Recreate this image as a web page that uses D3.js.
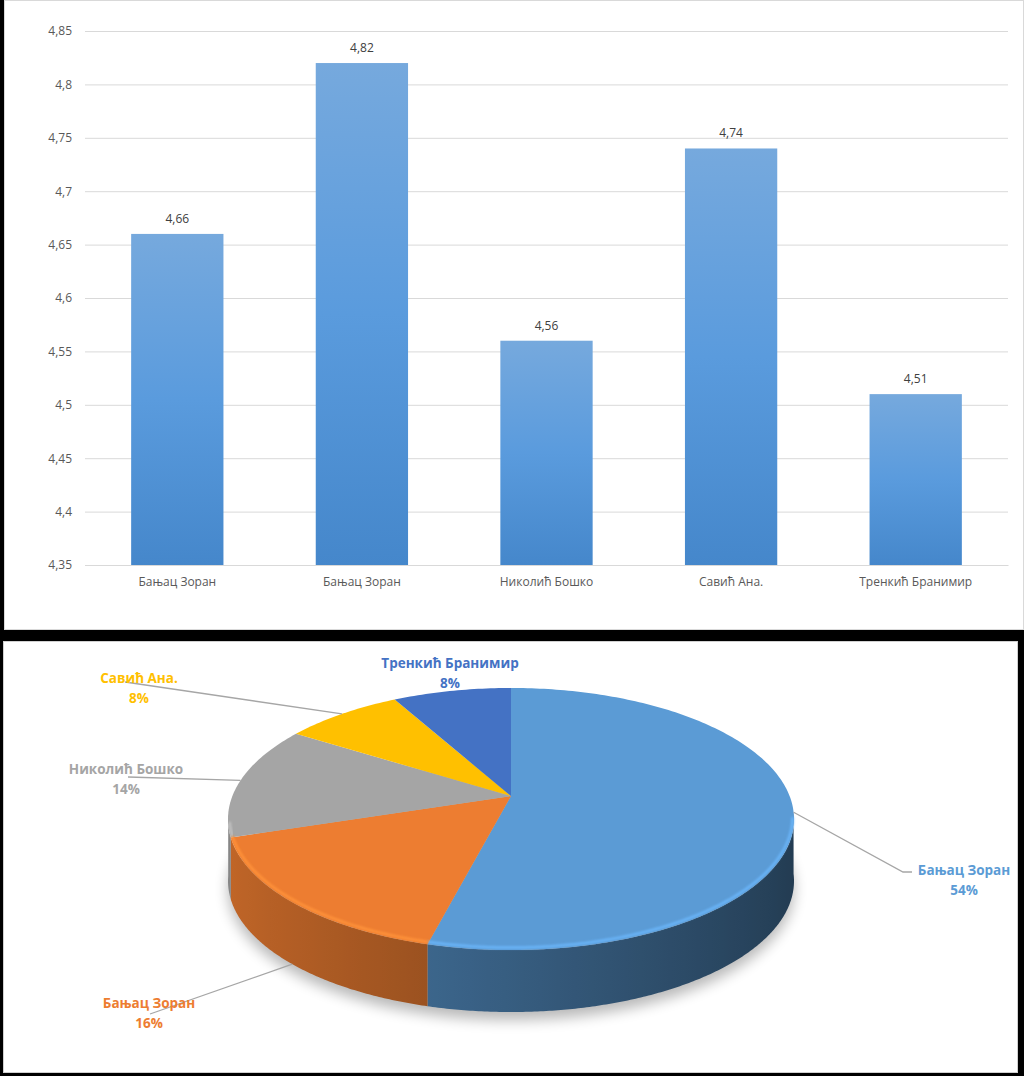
<!DOCTYPE html>
<html>
<head>
<meta charset="utf-8">
<script src="https://cdn.jsdelivr.net/npm/d3@7"></script>
<style>
  html, body { margin: 0; padding: 0; background: #000; }
  svg { display: block; }
</style>
</head>
<body>
<div id="chart"></div>
<script>
// bar chart data
const barNames = ['Бањац Зоран', 'Бањац Зоран', 'Николић Бошко', 'Савић Ана.', 'Тренкић Бранимир'];
const barValues = [4.66, 4.82, 4.56, 4.74, 4.51];
const yTicks = [4.35, 4.4, 4.45, 4.5, 4.55, 4.6, 4.65, 4.7, 4.75, 4.8, 4.85];

// pie chart data (clockwise from 12 o'clock)
const pieNames = ['Бањац Зоран', 'Бањац Зоран', 'Николић Бошко', 'Савић Ана.', 'Тренкић Бранимир'];
const pieValues = [54, 16, 14, 8, 8];
const pieColors = ['#5b9bd5', '#ed7d31', '#a5a5a5', '#ffc000', '#4472c4'];

const W = 1024, H = 1076;
const comma = v => String(+v.toFixed(2)).replace('.', ',');

const svg = d3.select('#chart').append('svg')
  .attr('width', W)
  .attr('height', H);

const defs = svg.append('defs');

// panels
svg.append('rect').attr('x', 4.5).attr('y', 0.5).attr('width', 1019).attr('height', 629)
  .attr('fill', '#fff').attr('stroke', '#d9d9d9');
svg.append('rect').attr('x', 3.5).attr('y', 641.5).attr('width', 1014).attr('height', 431)
  .attr('fill', '#fff').attr('stroke', '#d0d0d0');

/* ---------- bar chart ---------- */
const margin = {left: 85, right: 16, top: 31, bottom: 65};
const x = d3.scaleBand()
  .domain(d3.range(barNames.length))
  .range([margin.left, W - margin.right])
  .paddingInner(0.5)
  .paddingOuter(0.25);
const y = d3.scaleLinear()
  .domain([yTicks[0], yTicks[yTicks.length - 1]])
  .range([630 - margin.bottom, margin.top]);

const grad = defs.append('linearGradient')
  .attr('id', 'barGrad')
  .attr('x1', 0).attr('y1', 0).attr('x2', 0).attr('y2', 1);
grad.append('stop').attr('offset', '0%').attr('stop-color', '#76a9dd');
grad.append('stop').attr('offset', '50%').attr('stop-color', '#5a9bdd');
grad.append('stop').attr('offset', '100%').attr('stop-color', '#4587cb');

const yAxis = g => g
  .attr('transform', `translate(${margin.left},0)`)
  .call(d3.axisLeft(y).tickValues(yTicks).tickFormat(comma)
    .tickSize(-(W - margin.right - margin.left)).tickPadding(13))
  .call(g => g.select('.domain').remove())
  .call(g => g.selectAll('.tick line').attr('stroke', '#d9d9d9'))
  .call(g => g.selectAll('.tick text')
    .attr('fill', '#595959')
    .attr('font-family', 'Open Sans, sans-serif')
    .attr('font-size', 12));

svg.append('g').call(yAxis);

const xAxis = g => g
  .attr('transform', `translate(0,${y(yTicks[0])})`)
  .call(d3.axisBottom(x).tickFormat(i => barNames[i]).tickSize(0).tickPadding(12))
  .call(g => g.select('.domain').attr('stroke', '#d9d9d9'))
  .call(g => g.selectAll('.tick text')
    .attr('fill', '#595959')
    .attr('font-family', 'Open Sans, sans-serif')
    .attr('font-size', 12));

svg.selectAll('rect.bar')
  .data(barValues)
  .join('rect')
  .attr('class', 'bar')
  .attr('x', (d, i) => x(i))
  .attr('width', x.bandwidth())
  .attr('y', d => y(d))
  .attr('height', d => y(yTicks[0]) - y(d))
  .attr('fill', 'url(#barGrad)');

svg.append('g').call(xAxis);

svg.append('g')
  .attr('font-family', 'Open Sans, sans-serif')
  .attr('font-size', 12)
  .attr('fill', '#404040')
  .attr('text-anchor', 'middle')
  .selectAll('text')
  .data(barValues)
  .join('text')
  .attr('x', (d, i) => x(i) + x.bandwidth() / 2)
  .attr('y', d => y(d) - 11)
  .text(d => comma(d));

/* ---------- 3D pie ---------- */
const cx = 511, cy = 796;   // apex
const rx = 278.6, ry = 127; // projected radii
const persp = 0.1756;       // perspective strength
const depth = 62;
const deg = Math.PI / 180;

// t: angle clockwise from top (radians), r: radius 0..1
function proj(t, r, dz) {
  const u = r * Math.sin(t), v = -r * Math.cos(t);
  const k = 1 / (1 - persp * v);
  return [cx + rx * u * k, cy + ry * v * k + (dz || 0)];
}
const shade = t => 0.6 - 0.22 * Math.sin(t);
const darken = (col, f) => {
  const c = d3.rgb(col);
  return d3.rgb(c.r * f, c.g * f, c.b * f).formatHex();
};

const arcs = d3.pie().sort(null).value(d => d)(pieValues);

// soft shadow under pie
const blur = defs.append('filter').attr('id', 'shadow')
  .attr('x', '-20%').attr('y', '-20%').attr('width', '140%').attr('height', '140%');
blur.append('feGaussianBlur').attr('stdDeviation', 7);
svg.append('path')
  .attr('d', d3.line()(d3.range(0, 361, 2).map(a => proj(a * deg, 1.0, depth + 8))) + 'Z')
  .attr('fill', '#000')
  .attr('opacity', 0.28)
  .attr('filter', 'url(#shadow)');

// side wall: one path per slice, shaded with a horizontal gradient
const sideFrom = 97 * deg, sideTo = 262 * deg;
arcs.forEach((a, i) => {
  const t0 = Math.max(a.startAngle, sideFrom), t1 = Math.min(a.endAngle, sideTo);
  if (t1 <= t0) return;
  const ts = d3.range(t0, t1, 0.5 * deg).concat([t1]);
  const top = ts.map(t => proj(t, 1, 0));
  const bot = ts.map(t => proj(t, 1, depth)).reverse();
  const xs = top.map(p => p[0]);
  const xMin = d3.min(xs), xMax = d3.max(xs);
  const g = defs.append('linearGradient')
    .attr('id', 'side' + i)
    .attr('gradientUnits', 'userSpaceOnUse')
    .attr('x1', xMin).attr('x2', xMax).attr('y1', 0).attr('y2', 0);
  const stops = ts.filter((t, j) => j % 6 === 0 || j === ts.length - 1)
    .map(t => ({o: (proj(t, 1, 0)[0] - xMin) / Math.max(1, xMax - xMin), c: darken(pieColors[i], shade(t))}))
    .sort((p, q) => p.o - q.o);
  g.selectAll('stop').data(stops).join('stop')
    .attr('offset', s => Math.min(1, Math.max(0, s.o)))
    .attr('stop-color', s => s.c);
  svg.append('path')
    .attr('d', d3.line()(top.concat(bot)) + 'Z')
    .attr('fill', `url(#side${i})`);
});

// top faces
svg.append('g')
  .selectAll('path')
  .data(arcs)
  .join('path')
  .attr('d', a => {
    const n = Math.max(2, Math.ceil((a.endAngle - a.startAngle) / deg));
    const pts = [[cx, cy]];
    for (let j = 0; j <= n; j++) {
      pts.push(proj(a.startAngle + (a.endAngle - a.startAngle) * j / n, 1, 0));
    }
    return d3.line()(pts) + 'Z';
  })
  .attr('fill', (a, i) => pieColors[i]);

// rim highlight on the front edge
const rimBlur = defs.append('filter').attr('id', 'rim');
rimBlur.append('feGaussianBlur').attr('stdDeviation', 0.8);
svg.append('g')
  .selectAll('path')
  .data(arcs)
  .join('path')
  .attr('d', a => {
    const t0 = Math.max(a.startAngle, 100 * deg), t1 = Math.min(a.endAngle, 258 * deg);
    if (t1 <= t0) return null;
    const pts = d3.range(t0, t1, 0.5 * deg).concat([t1]).map(t => proj(t, 0.995, -1.5));
    return d3.line()(pts);
  })
  .attr('fill', 'none')
  .attr('stroke', (a, i) => d3.rgb(pieColors[i]).brighter(0.45))
  .attr('stroke-width', 2.5)
  .attr('filter', 'url(#rim)');

// labels and leader lines
const labelPos = [[964, 870], [149, 1003], [126, 769], [139, 678], [450, 663]];
const leaders = [[[903, 872], [912, 872]], [[150, 1014]], [[128, 777]], [[125, 682]], null];

arcs.forEach((a, i) => {
  const mid = (a.startAngle + a.endAngle) / 2;
  const v = -Math.cos(mid);
  const anchor = proj(mid, 1, v > 0.5 ? depth : 0);
  if (leaders[i]) {
    svg.append('path')
      .attr('d', d3.line()([anchor].concat(leaders[i])))
      .attr('fill', 'none')
      .attr('stroke', '#a6a6a6')
      .attr('stroke-width', 1.3);
  }
  const t = svg.append('text')
    .attr('x', labelPos[i][0])
    .attr('y', labelPos[i][1])
    .attr('text-anchor', 'middle')
    .attr('font-family', 'Open Sans, sans-serif')
    .attr('font-weight', 700)
    .attr('font-size', 13.5)
    .attr('fill', pieColors[i]);
  t.append('tspan').attr('x', labelPos[i][0]).attr('dy', '0.35em').text(pieNames[i]);
  t.append('tspan').attr('x', labelPos[i][0]).attr('dy', 20)
    .text(Math.round(a.value / d3.sum(pieValues) * 100) + '%');
});
</script>
</body>
</html>
